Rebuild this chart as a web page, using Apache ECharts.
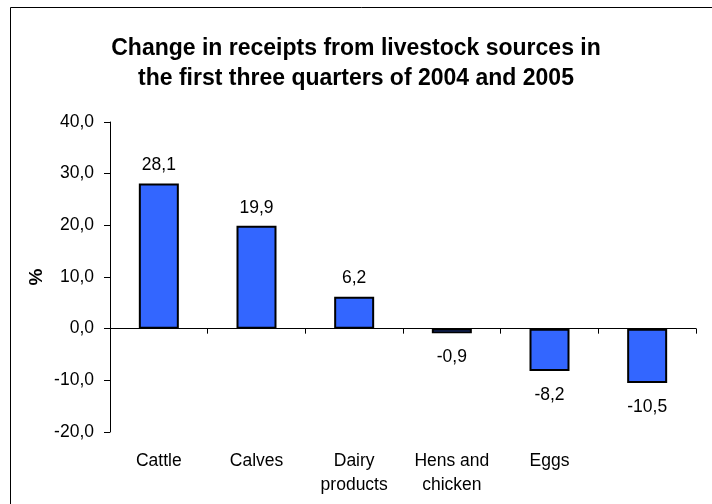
<!DOCTYPE html>
<html>
<head>
<meta charset="utf-8">
<script src="https://cdn.jsdelivr.net/npm/echarts@6/dist/echarts.min.js"></script>
<style>
html,body{margin:0;padding:0;background:#fff;}
#chart{width:712px;height:504px;}
</style>
</head>
<body>
<div id="chart"></div>
<script>
var titleText = 'Change in receipts from livestock sources in\nthe first three quarters of 2004 and 2005';
var categories = ['Cattle', 'Calves', 'Dairy\nproducts', 'Hens and\nchicken', 'Eggs', ''];
var values = [28.1, 19.9, 6.2, -0.9, -8.2, -10.5];
var yTicks = { min: -20, max: 40, interval: 10 };
var yName = '%';

function fmt(v) { return v.toFixed(1).replace('.', ','); }

var chart = echarts.init(document.getElementById('chart'));
var font = 'Liberation Sans, Arial, sans-serif';
var fs = 17.5;
chart.setOption({
  animation: false,
  backgroundColor: '#ffffff',
  title: {
    text: titleText,
    left: 'center',
    top: 29,
    textStyle: { fontFamily: font, fontSize: 23, fontWeight: 'bold', color: '#000', lineHeight: 30 }
  },
  graphic: [
    { type: 'line', shape: { x1: 10.5, y1: 7.5, x2: 712, y2: 7.5 }, style: { stroke: '#000', lineWidth: 1 } },
    { type: 'line', shape: { x1: 10.5, y1: 7.5, x2: 10.5, y2: 504 }, style: { stroke: '#000', lineWidth: 1 } },
    {
      type: 'text', x: 37, y: 277, rotation: Math.PI / 2,
      style: { text: yName, font: 'bold 19px ' + font, fill: '#000', align: 'center', verticalAlign: 'middle' }
    }
  ],
  grid: { left: 110, right: 16, top: 122, bottom: 72 },
  xAxis: [
    {
      type: 'category',
      data: categories,
      axisLine: { onZero: true, lineStyle: { color: '#000', width: 1 } },
      axisTick: { show: true, length: 5, lineStyle: { color: '#000' } },
      axisLabel: { show: false }
    },
    {
      type: 'category',
      data: categories,
      position: 'bottom',
      axisLine: { show: false, onZero: false },
      axisTick: { show: false },
      axisLabel: { show: true, margin: 17, fontFamily: font, fontSize: fs, color: '#000', lineHeight: 24, interval: 0 }
    }
  ],
  yAxis: {
    type: 'value',
    min: yTicks.min,
    max: yTicks.max,
    interval: yTicks.interval,
    axisLine: { show: true, lineStyle: { color: '#000', width: 1 } },
    axisTick: { show: true, length: 6, lineStyle: { color: '#000' } },
    splitLine: { show: false },
    axisLabel: { margin: 16, fontFamily: font, fontSize: fs, color: '#000', formatter: function (v) { return fmt(v); } }
  },
  series: [{
    type: 'bar',
    xAxisIndex: 0,
    barWidth: 40,
    data: values.map(function (v) {
      return { value: v, label: { position: v < 0 ? 'bottom' : 'top', distance: v < 0 ? 15 : 9 } };
    }),
    itemStyle: { color: '#3366FF', borderColor: '#000', borderWidth: 2 },
    label: {
      show: true,
      fontFamily: font,
      fontSize: fs,
      color: '#000',
      formatter: function (p) { return fmt(p.value); }
    }
  }]
});
</script>
</body>
</html>
